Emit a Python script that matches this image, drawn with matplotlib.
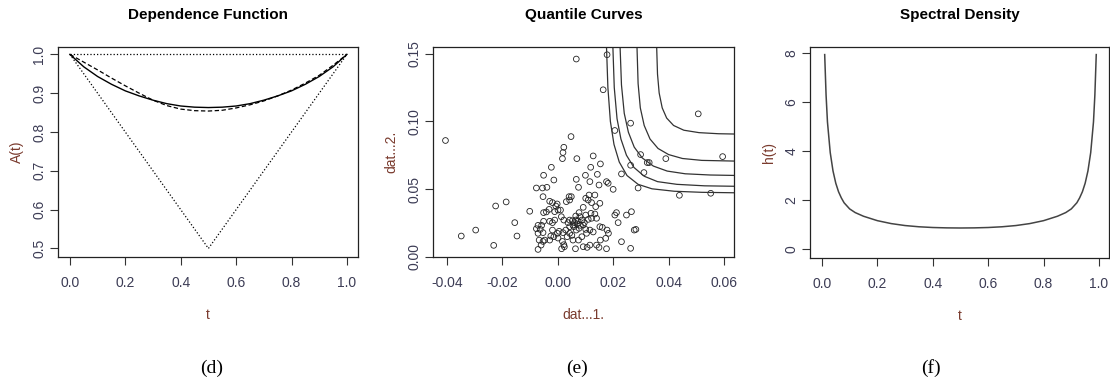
import numpy as np
import matplotlib
matplotlib.use('Agg')
import matplotlib.pyplot as plt

plt.rcParams['font.family'] = ['Liberation Sans', 'DejaVu Sans']

# ---- data: dependence function ----
t_dep = [0.0, 0.05, 0.1, 0.15, 0.2, 0.25, 0.3, 0.35, 0.4, 0.45, 0.5,
         0.55, 0.6, 0.65, 0.7, 0.75, 0.8, 0.85, 0.9, 0.95, 1.0]
A_fit = [1.0, 0.968, 0.943, 0.923, 0.906, 0.893, 0.882, 0.873, 0.867, 0.864, 0.863,
         0.864, 0.867, 0.873, 0.882, 0.893, 0.906, 0.923, 0.943, 0.968, 1.0]
A_np = [1.0, 0.980, 0.960, 0.939, 0.919, 0.900, 0.882, 0.868, 0.859, 0.855, 0.854,
        0.856, 0.862, 0.870, 0.880, 0.893, 0.908, 0.926, 0.946, 0.972, 1.0]
bound_t = [0.0, 0.5, 1.0]
bound_lo = [1.0, 0.5, 1.0]
bound_hi = [1.0, 1.0, 1.0]

# ---- data: scatter (dat..1., dat..2.) ----
dat1 = [-0.0405, -0.0348, -0.0296, -0.0231, -0.0224, -0.0186, -0.0155, -0.0147, -0.0101,
        -0.0077, -0.0055, -0.0051, -0.0053, -0.0039, -0.0023, -0.0014, 0.0017, 0.0022,
        0.0019, 0.0048, 0.0067, 0.0069, 0.0067, 0.0075, 0.0119, 0.0128, 0.0116, 0.0100,
        0.0154, 0.0143, 0.0149, 0.0164, 0.0178, 0.0176, 0.0182, 0.0206, 0.0200, 0.0263,
        0.0263, 0.0230, 0.0299, 0.0311, 0.0323, 0.0330, 0.0290, 0.0390, 0.0439, 0.0507,
        0.0552, 0.0595,
        -0.0029, -0.0019, -0.0007, -0.0002, -0.0041, -0.0051, -0.0031, -0.0011, 0.0001,
        0.0013, 0.0010, 0.0031, 0.0041, 0.0049, 0.0043, 0.0022, 0.0037, 0.0055, 0.0065,
        0.0073, 0.0058, 0.0067, 0.0080, 0.0087, 0.0092, 0.0101, 0.0110, 0.0120, 0.0122,
        0.0134, 0.0140, 0.0152, 0.0137, 0.0161, 0.0178, 0.0173, 0.0183, 0.0149, 0.0154,
        0.0176, 0.0206, 0.0212, 0.0218, 0.0230, 0.0248, 0.0266, 0.0276, 0.0282, 0.0263,
        0.0092, 0.0064, 0.0024, 0.0022, 0.0017, 0.0001, -0.0014, -0.0025, -0.0029,
        -0.0019, -0.0019, -0.0011, -0.0029, -0.0051, -0.0058, -0.0063, -0.0071, -0.0067,
        -0.0077, -0.0071, -0.0053, -0.0047, -0.0071, -0.0060, -0.0053, 0.0005, 0.0019,
        -0.0001, 0.0043, 0.0051, 0.0055, 0.0075, 0.0101, 0.0116, 0.0128, 0.0152, 0.0106,
        0.0116, 0.0140, 0.0014, 0.0043, 0.0053, 0.0065, 0.0077, 0.0092, 0.0110, 0.0122,
        0.0134, 0.0113, 0.0101, 0.0061, 0.0070, 0.0082, 0.0077, 0.0096, 0.0104, 0.0087,
        0.0043, 0.0029, 0.0034]
dat2 = [0.0859, 0.0153, 0.0197, 0.0084, 0.0375, 0.0405, 0.0252, 0.0153, 0.0336,
        0.0508, 0.0508, 0.0602, 0.0444, 0.0513, 0.0661, 0.0567, 0.0725, 0.0809,
        0.0770, 0.0888, 0.1461, 0.0725, 0.0572, 0.0513, 0.0661, 0.0745, 0.0555, 0.0602,
        0.0686, 0.0609, 0.0530, 0.1234, 0.1493, 0.0555, 0.0543, 0.0933, 0.0498, 0.0987,
        0.0676, 0.0612, 0.0755, 0.0622, 0.0696, 0.0696, 0.0508, 0.0725, 0.0454, 0.1056,
        0.0469, 0.0740,
        0.0410, 0.0400, 0.0375, 0.0390, 0.0331, 0.0326, 0.0350, 0.0333, 0.0345,
        0.0296, 0.0345, 0.0407, 0.0444, 0.0444, 0.0419, 0.0271, 0.0252, 0.0234, 0.0271,
        0.0266, 0.0222, 0.0197, 0.0296, 0.0271, 0.0234, 0.0308, 0.0276, 0.0321, 0.0284,
        0.0316, 0.0284, 0.0395, 0.0370, 0.0217, 0.0197, 0.0136, 0.0173, 0.0069, 0.0123,
        0.0059, 0.0308, 0.0326, 0.0252, 0.0111, 0.0308, 0.0333, 0.0197, 0.0202, 0.0062,
        0.0074, 0.0059, 0.0074, 0.0089, 0.0113, 0.0138, 0.0148, 0.0153, 0.0123,
        0.0197, 0.0252, 0.0271, 0.0262, 0.0262, 0.0232, 0.0202, 0.0173, 0.0123,
        0.0207, 0.0232, 0.0178, 0.0123, 0.0054, 0.0086, 0.0113, 0.0188, 0.0178,
        0.0173, 0.0173, 0.0158, 0.0123, 0.0123, 0.0202, 0.0197, 0.0183, 0.0222, 0.0069,
        0.0086, 0.0086, 0.0059, 0.0271, 0.0266, 0.0301, 0.0326, 0.0365, 0.0419, 0.0400,
        0.0456, 0.0456, 0.0432, 0.0252, 0.0242, 0.0232, 0.0210, 0.0252, 0.0173, 0.0148,
        0.0222, 0.0197, 0.0148]

# quantile curves (inner to outer)
q1x = [0.0176, 0.0181, 0.0190, 0.0203, 0.0222, 0.0250, 0.0290, 0.0340, 0.0420, 0.0520, 0.0660]
q1y = [0.155, 0.125, 0.100, 0.083, 0.070, 0.060, 0.0535, 0.0502, 0.0484, 0.0476, 0.0472]
q2x = [0.0199, 0.0204, 0.0214, 0.0228, 0.0248, 0.0275, 0.0312, 0.0360, 0.0430, 0.0530, 0.0660]
q2y = [0.155, 0.125, 0.102, 0.087, 0.075, 0.066, 0.0595, 0.0555, 0.0535, 0.0524, 0.0520]
q3x = [0.0225, 0.0230, 0.0240, 0.0255, 0.0276, 0.0305, 0.0345, 0.0395, 0.0460, 0.0550, 0.0660]
q3y = [0.155, 0.127, 0.106, 0.092, 0.081, 0.073, 0.0670, 0.0633, 0.0613, 0.0604, 0.0600]
q4x = [0.0286, 0.0290, 0.0298, 0.0312, 0.0333, 0.0362, 0.0400, 0.0450, 0.0520, 0.0660]
q4y = [0.155, 0.128, 0.110, 0.097, 0.087, 0.080, 0.0755, 0.0726, 0.0712, 0.0706]
q5x = [0.0357, 0.0360, 0.0366, 0.0377, 0.0393, 0.0418, 0.0455, 0.0510, 0.0580, 0.0660]
q5y = [0.155, 0.135, 0.121, 0.110, 0.1025, 0.0970, 0.0935, 0.0917, 0.0909, 0.0906]

# ---- data: spectral density ----
t_h = [0.01, 0.015, 0.02, 0.03, 0.04, 0.05, 0.06, 0.07, 0.08, 0.10, 0.12, 0.15, 0.20,
       0.25, 0.30, 0.35, 0.40, 0.45, 0.50, 0.55, 0.60, 0.65, 0.70, 0.75, 0.80, 0.85,
       0.88, 0.90, 0.92, 0.93, 0.94, 0.95, 0.96, 0.97, 0.98, 0.985, 0.99]
h_t = [7.95, 6.3, 5.2, 3.95, 3.2, 2.7, 2.35, 2.1, 1.9, 1.65, 1.5, 1.35, 1.17,
       1.05, 0.97, 0.92, 0.89, 0.875, 0.87, 0.875, 0.89, 0.92, 0.97, 1.05, 1.17, 1.35,
       1.5, 1.65, 1.9, 2.1, 2.35, 2.7, 3.2, 3.95, 5.2, 6.3, 7.95]

tick_col = '#3c3c55'
lab_col = '#7a3b2e'
W, H = 1110, 385


def box(l, r, t, b):
    return [l / W, 1 - b / H, (r - l) / W, (b - t) / H]


def style(ax, title, xlab, ylab):
    ax.set_title(title, fontsize=11, fontweight='bold', pad=20)
    ax.set_xlabel(xlab, color=lab_col, fontsize=10, labelpad=13)
    ax.set_ylabel(ylab, color=lab_col, fontsize=10, labelpad=6)
    ax.tick_params(direction='out', length=5.5, width=0.8, labelsize=10,
                   colors='#333333', labelcolor=tick_col)
    ax.tick_params(axis='x', pad=8)
    ax.tick_params(axis='y', pad=3)
    for lbl in ax.get_yticklabels():
        lbl.set_rotation(90)
        lbl.set_va('center')
        lbl.set_ha('right')
    for s in ax.spines.values():
        s.set_linewidth(0.9)
        s.set_color('#222222')


fig = plt.figure(figsize=(11.1, 3.85), dpi=100)

# (d) dependence function
ax1 = fig.add_axes(box(58, 358, 47, 257))
ax1.plot(bound_t, bound_hi, color='black', linestyle=':', linewidth=0.9)
ax1.plot(bound_t, bound_lo, color='black', linestyle=':', linewidth=0.9)
ax1.plot(t_dep, A_fit, color='black', linewidth=1.0)
ax1.plot(t_dep, A_np, color='black', linestyle=(0, (3.5, 2)), linewidth=0.9)
ax1.set_xlim(-0.043, 1.04)
ax1.set_ylim(0.478, 1.019)
ax1.set_xticks([0.0, 0.2, 0.4, 0.6, 0.8, 1.0])
ax1.set_yticks([0.5, 0.6, 0.7, 0.8, 0.9, 1.0])
ax1.set_xticklabels(['0.0', '0.2', '0.4', '0.6', '0.8', '1.0'])
ax1.set_yticklabels(['0.5', '0.6', '0.7', '0.8', '0.9', '1.0'])
style(ax1, 'Dependence Function', 't', 'A(t)')

# (e) quantile curves
ax2 = fig.add_axes(box(433, 734, 47, 257))
ax2.scatter(dat1, dat2, s=17, facecolors='none', edgecolors='#222222', linewidths=0.6)
for qx, qy in [(q1x, q1y), (q2x, q2y), (q3x, q3y), (q4x, q4y), (q5x, q5y)]:
    ax2.plot(qx, qy, color='#333333', linewidth=0.9)
ax2.set_xlim(-0.045, 0.0636)
ax2.set_ylim(-0.0002, 0.155)
ax2.set_xticks([-0.04, -0.02, 0.0, 0.02, 0.04, 0.06])
ax2.set_xticklabels(['-0.04', '-0.02', '0.00', '0.02', '0.04', '0.06'])
ax2.set_yticks([0.0, 0.05, 0.10, 0.15])
ax2.set_yticklabels(['0.00', '0.05', '0.10', '0.15'])
style(ax2, 'Quantile Curves', 'dat...1.', 'dat...2.')

# (f) spectral density
ax3 = fig.add_axes(box(810, 1109, 47, 258))
ax3.plot(t_h, h_t, color='#444444', linewidth=1.1)
ax3.set_xlim(-0.043, 1.036)
ax3.set_ylim(-0.355, 8.26)
ax3.set_xticks([0.0, 0.2, 0.4, 0.6, 0.8, 1.0])
ax3.set_xticklabels(['0.0', '0.2', '0.4', '0.6', '0.8', '1.0'])
ax3.set_yticks([0, 2, 4, 6, 8])
ax3.set_yticklabels(['0', '2', '4', '6', '8'])
style(ax3, 'Spectral Density', 't', 'h(t)')

# captions
for x, cap in [(212, '(d)'), (577, '(e)'), (931, '(f)')]:
    fig.text(x / W, 1 - 368 / H, cap, ha='center', va='center', fontsize=14,
             family=['Liberation Serif', 'DejaVu Serif'])

fig.savefig('out.png', dpi=100)
